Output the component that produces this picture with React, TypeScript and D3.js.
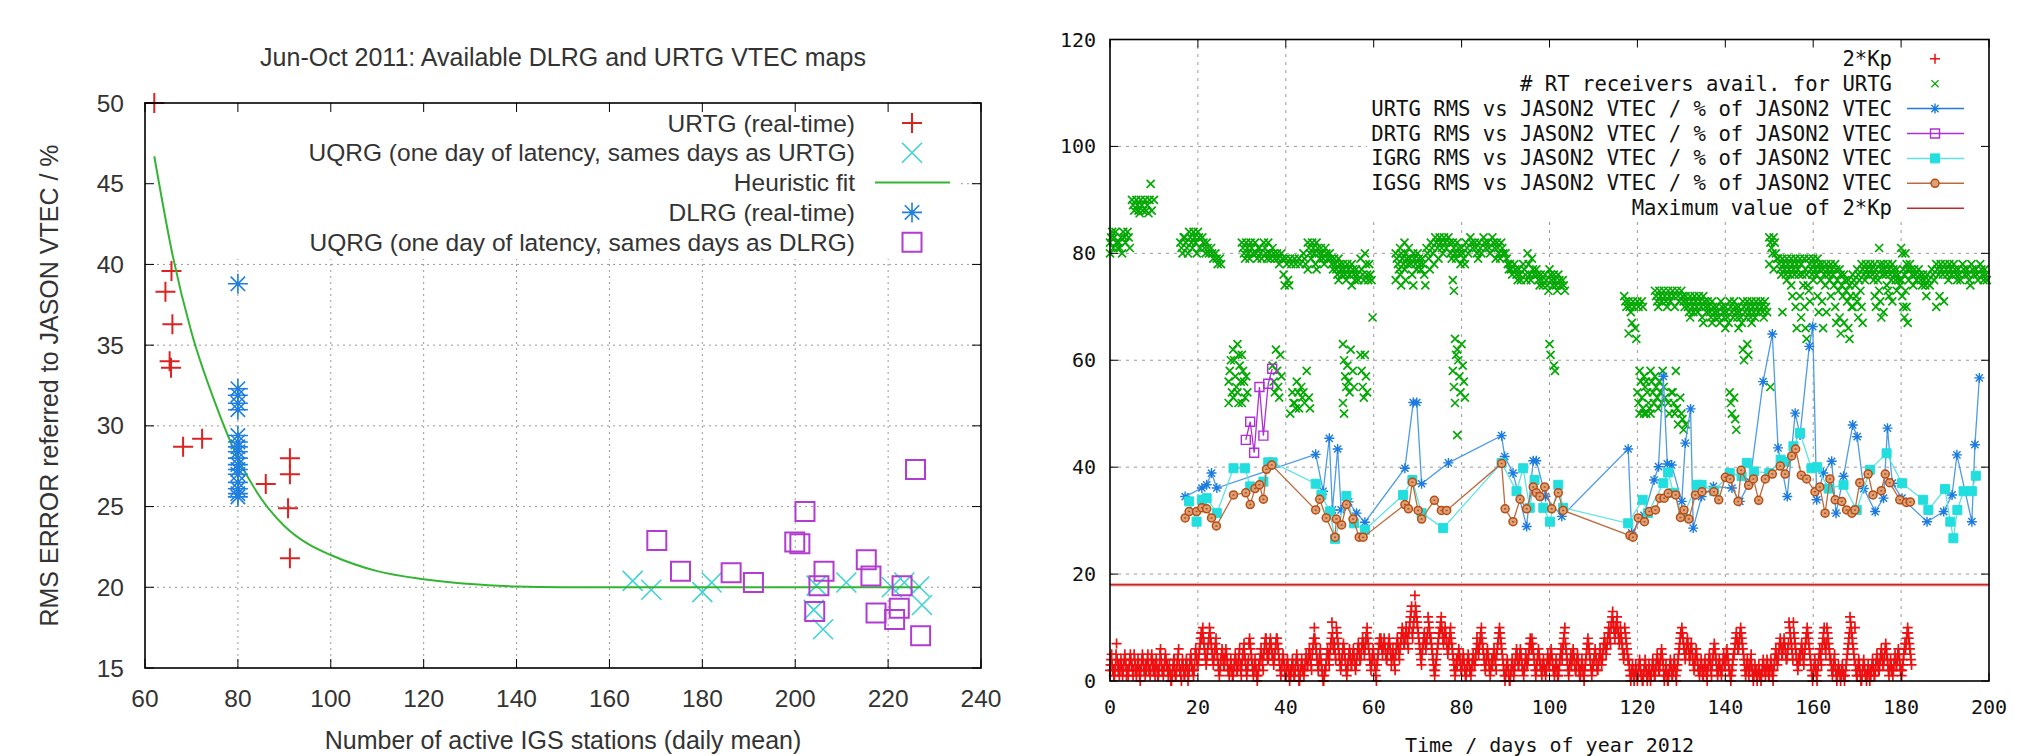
import React, { useEffect, useRef } from 'react';
import * as d3 from 'd3';

// ---------- left panel: RMS error vs number of IGS stations ----------
const leftXTicks = [60, 80, 100, 120, 140, 160, 180, 200, 220, 240];
const leftYTicks = [15, 20, 25, 30, 35, 40, 45, 50];

const urtgPts = [[62, 50], [65.7, 39.6], [64.4, 38.3], [65.9, 36.3], [65.3, 34.0], [65.6, 33.6],
  [68.2, 28.7], [72.3, 29.2], [86, 26.4], [91.2, 28.0], [91.2, 27.0], [90.8, 24.9], [91.2, 21.8]];
const uqrgUrtgPts = [[165, 20.4], [169, 19.85], [180, 19.7], [182, 20.3], [204, 18.6], [204.6, 20.1],
  [206, 17.4], [211, 20.3], [220.8, 20.0], [223.5, 20.3], [226.7, 20.05], [227.3, 18.9]];
const fitPts = [[62, 46.7], [66, 40.5], [70, 35.8], [75, 31.5], [80, 28.0], [85, 25.5], [90, 23.8],
  [95, 22.7], [100, 22.0], [110, 21.0], [120, 20.5], [130, 20.2], [140, 20.05], [150, 20.0], [227, 20.0]];
const dlrgVals = [38.8, 32.3, 31.9, 31.4, 31.0, 29.4, 29.0, 28.7, 28.4, 28.0, 27.6, 27.3, 27.0,
  26.5, 26.1, 25.8, 25.6];
const uqrgDlrgPts = [[170.2, 22.9], [175.3, 21.0], [186.2, 20.9], [191, 20.3], [199.9, 22.8],
  [201, 22.7], [202.1, 24.7], [206.2, 21.0], [205.1, 20.1], [204.2, 18.5], [215.3, 21.7],
  [216.3, 20.7], [217.4, 18.4], [223, 20.1], [222.4, 18.7], [221.4, 18.0], [227, 17.0], [225.9, 27.3]];

// ---------- right panel: time series 2012 ----------
const rightXTicks = [0, 20, 40, 60, 80, 100, 120, 140, 160, 180, 200];
const rightYTicks = [0, 20, 40, 60, 80, 100, 120];
const kpMax = 18;

// 2*Kp, one string per day, eight 3-hour values (base 36 digits)
const kp2 = [
  '23453221', '12357432', '31234321', '23454312', '21234543', '32125432', '12343210', '23454322',
  '13234532', '21245432', '32134321', '12356432', '21234543', '32123210', '01234421', '12345632',
  '21034321', '12343201', '23454322', '12356543', '34567898', '9a876543', '45678a98', '76543456',
  '78654321', '23456543', '34565432', '21234321', '12345432', '23456321', '34567543', '21234787',
  '65432123', '43210123', '34565432', '56788654', '45678765', '54345678', '87654321', '23454321',
  '12343210', '21234321', '12345432', '00123432', '21234543', '34565432', '5678a876', '54323456',
  '43210012', '23456543', '5678b976', '7654a987', '65432345', '67654321', '23456543', '34565432',
  '34567654', '45678765', '6789a876', '54323456', '54321034', '56787876', '56787654', '45678765',
  '34565432', '56787654', '6789a987', '789a9876', '9abcde98', 'abcgedcb', 'a9876543', '56789876',
  '789cba98', '87654321', '23456789', '9abca987', '89a98765', '6789a876', '54321234', '34565432',
  '23454321', '12345432', '21234543', '34568765', '6789a876', '54323456', '54321234', '34565432',
  '56789a98', '76543210', '12343210', '01234321', '23456543', '34565432', '21234543', '34567876',
  '87654321', '23456543', '32123432', '21234543', '34565432', '21234321', '12345654', '6789a765',
  '43212345', '34565432', '23454321', '12343210', '23456787', '65432123', '34565432', '23456543',
  '45678765', '6789a987', 'abcdba98', '9abca987', '8a987654', '5a987654', '43210123', '21012321',
  '01234321', '10012343', '21012321', '01234321', '12345432', '23456543', '10123210', '01234321',
  '12343210', '23456789', '9a987654', '56787654', '56765432', '34565432', '21234321', '12343210',
  '23454321', '34567654', '32123432', '21234543', '34565432', '21012345', '56789876', '6789a987',
  '65432123', '43212345', '32101232', '21012321', '10123432', '21234321', '12343210', '23456543',
  '45678765', '56787654', '4567ba98', '7654b987', '65432345', '45676543', '56789a98', '76543210',
  '12343210', '23456543', '6789a765', '7a987654', '43212345', '32101232', '21012321', '10123456',
  '789cba98', '7654a321', '12343210', '01234321', '10123210', '21234321', '12345432', '23456543',
  '34567654', '32123432', '21234543', '34565432', '21234567', '6789a987', '6543'];

// number of real-time receivers available, "day: values"
const rxAvail = [
  '0:82 83 84 81 80', '1:83 84 82 81', '2:82 81 83 80', '3:84 83 82', '4:84 83 81',
  '5:90 89 88', '6:90 89 88 87.5', '7:90 89 88', '8:90 88 89 87.5', '9:90 93 88', '10:90',
  '16:82 81 80 83', '17:83 82 81 80', '18:84 83 82 81', '19:84 83 82 80', '20:84 83 81',
  '21:83 82 81 80', '22:82 81 80', '23:81 80 79', '24:80 79 78', '25:79 78',
  '27:56 58 60 54 52', '28:62 60 57 55 53', '29:63 61 59 56 54 52', '30:82 81 80 79 61 58 56 53 52',
  '31:82 81 80 79 57 54', '32:82 81 80', '33:82 80 79 81', '34:81 80 79', '35:82 81 80 79',
  '36:82 80 79', '37:81 80 79 62 59 56 54', '38:80 79 78 61 58 55 53', '39:80 79 76 74 57',
  '40:79 78 75 74', '41:79 78 54 52 50', '42:79 78 56 54 52 51', '43:79 78 55 53 51',
  '44:80 79 78 58 54 52', '45:82 81 80 79 77 53 51', '46:82 81 80 78', '47:82 81 80 79 77',
  '48:81 80 79 78', '49:81 80 79', '50:80 79 78 77', '51:79 78 77 76', '52:79 78 77 76 75',
  '53:78 77 76 75 63 60 57 55 52 50', '54:78 77 76 62 59 56 54', '55:78 77 76 75 74 58 55',
  '56:77 76 75', '57:79 77 76 75 61 58 55 53', '58:80 78 76 75 61 57 54', '59:78 76 75 68',
  '65:80 79 78 77 75', '66:81 80 79 78 76 74', '67:82 80 79 78 77 75', '68:81 79 78 76',
  '69:80 79 78 77 74', '70:80 79 78 77', '71:79 78 76 74', '72:81 80 79 77', '73:82 81 80 78',
  '74:83 82 81 79', '75:83 82 81 80', '76:83 82 81', '77:83 82 80 79',
  '78:82 81 80 79 75 73 64 61 58 55 52', '79:82 81 80 78 62 60 57 54 46', '80:81 80 79 78 63 59 56 53',
  '81:82 81 80', '82:83 82 81', '83:82 81 80 79', '84:82 81 80', '85:83 82 81', '86:82 81 80',
  '87:83 82 81 79', '88:82 81 80 79', '89:82 81 80', '90:80 79 78 77', '91:78 77 76',
  '92:78 77 76 75', '93:77 76 75', '94:78 77 76 75', '95:80 78 76 75', '96:79 77 76',
  '97:77 76 75 74', '98:76 75 74', '99:76 75 74 73', '100:77 76 75 74 63 61', '101:76 75 74 73 59 58',
  '102:76 75 74', '103:75 74 73',
  '117:72 71 70', '118:71 70 69 67 65', '119:71 70 66 64', '120:71 70 58 56 54 52 50',
  '121:71 70 57 55 53 51 50', '122:56 54 52 51 50', '123:58 56 54 52 50', '124:73 72 71 70 57 55 53 51',
  '125:73 72 71 58 56 54 52', '126:73 72 71 70 55 53', '127:73 72 71 54 52 50', '128:73 72 70 58 54 52 50',
  '129:73 72 71 53 51 48', '130:73 72 71 70 50 49 47', '131:72 71 70 69 48', '132:72 71 70 69 68',
  '133:72 71 70 69', '134:72 71 70 68', '135:72 71 70 69 67', '136:71 70 69 68', '137:71 70 69 68 67',
  '138:70 69 68 67', '139:71 70 69 68', '140:70 69 68 67 66', '141:71 70 69 68 54 52 50',
  '142:71 70 69 68 53 49 47', '143:70 69 68 67 66', '144:71 70 69 68 62 60', '145:71 70 69 68 63 61',
  '146:71 70 69 68 67', '147:71 70 69', '148:71 70 69 68', '149:71 70 69', '150:83 82 81 80 78 55',
  '151:83 82 80 79 77', '152:79 78 77 76', '153:79 78 77 76 69', '154:79 78 77 76 75',
  '155:79 78 77 76 74 72', '156:79 78 77 76 70 66', '157:79 78 76 74 72 68', '158:79 77 76 74 70 66 64',
  '159:79 78 77 76 73 71', '160:79 78 77 76 75', '161:79 78 77 75 72 69', '162:78 77 76 74 71 66',
  '163:78 77 76 75 69', '164:78 77 76 74 72', '165:78 77 75 73 70 67', '166:77 76 74 72 68 65',
  '167:76 75 73 71 67', '168:75 74 72 70 66 64', '169:76 75 74 72 70', '170:77 76 75 73 71 68',
  '171:78 77 76 75 70 67', '172:78 77 76', '173:78 77 76 75', '174:78 77 76 75 72 70',
  '175:81 78 77 76 73 71 68', '176:78 77 76 74 69', '177:78 77 76 75 73 72', '178:78 77 76 75 71',
  '179:77 76 75 74 73', '180:81 80 77 76 75 72 70 68', '181:80 78 77 75 73 70 67', '182:78 77 76 74',
  '183:77 76 75', '184:77 76 75 74', '185:76 75 74 72', '186:76 75 74', '187:77 76 75',
  '188:78 77 76 72 70', '189:78 77 76 71', '190:78 77 76 75', '191:78 77 76', '192:78 77 76 75',
  '193:77 76 75', '194:78 77 76', '195:77 76 75 74', '196:78 77 76', '197:77 76 75', '198:78 77 76 75',
  '199:77 76 75'];

const urtgRms = [[17.1, 34.5], [20.9, 36.1], [22.0, 36.7], [23.1, 38.9], [24.3, 36.1], [46.8, 42.4],
  [48.5, 35.5], [49.9, 45.4], [50.6, 32.0], [51.8, 43.4], [52.6, 32.0], [54.3, 33.5], [56.1, 31.4],
  [58.0, 29.7], [67.1, 39.8], [69.0, 52.1], [69.8, 52.1], [70.9, 36.9], [77.0, 40.8], [89.1, 45.9],
  [89.8, 42.0], [91.7, 38.9], [94.8, 28.9], [96.3, 41.2], [97.0, 41.2], [99.1, 34.5], [102.8, 30.8],
  [117.9, 43.4], [118.7, 27.7], [121.5, 31.0], [123.8, 37.6], [124.8, 40.1], [125.9, 57.0],
  [126.8, 40.6], [127.8, 40.4], [130.1, 33.6], [130.9, 44.5], [132.1, 50.9], [132.7, 28.6],
  [134.6, 34.5], [137.3, 36.4], [141.5, 36.1], [143.3, 33.6], [145.6, 37.3], [148.6, 56.0],
  [150.7, 64.9], [152.0, 43.6], [154.1, 34.5], [155.9, 50.1], [157.0, 46.0], [159.1, 62.6],
  [159.9, 66.3], [160.8, 33.9], [162.3, 38.9], [164.2, 41.1], [165.2, 31.4], [166.9, 38.3],
  [169.0, 47.9], [170.0, 45.7], [171.5, 36.0], [174.1, 31.7], [176.0, 34.2], [176.9, 47.3],
  [178.0, 37.0], [180.2, 34.2], [185.9, 29.8], [189.7, 31.7], [191.6, 34.8], [192.7, 42.3],
  [196.1, 29.8], [196.8, 44.2], [197.8, 56.7]];
const drtgRms = [[30.9, 45.1], [31.9, 48.5], [32.8, 42.7], [34.0, 55.0], [34.9, 45.9], [36.0, 55.6], [36.9, 58.4]];
const igrgRms = [[18.0, 33.6], [19.7, 29.8], [20.9, 33.9], [22.0, 34.2], [24.3, 31.4], [28.1, 39.8],
  [30.7, 39.8], [31.9, 36.4], [34.9, 37.3], [36.0, 40.9], [37.0, 40.9], [46.8, 36.9], [48.1, 34.8],
  [50.0, 31.7], [51.2, 26.6], [53.8, 34.6], [55.5, 29.5], [58.0, 28.3], [66.7, 34.8], [68.8, 37.6],
  [70.9, 31.4], [75.8, 28.6], [89.1, 40.8], [92.5, 35.5], [94.0, 39.8], [95.5, 32.4], [96.6, 37.6],
  [98.6, 32.4], [100.1, 29.8], [102.0, 36.7], [103.1, 32.4], [117.9, 29.5], [121.2, 33.9],
  [122.4, 31.4], [125.9, 37.0], [127.0, 39.0], [128.2, 35.2], [130.4, 30.8], [133.5, 36.7],
  [134.6, 36.7], [137.5, 35.5], [141.0, 38.9], [143.7, 38.3], [144.9, 40.8], [146.5, 39.2],
  [150.0, 38.9], [152.6, 41.4], [153.7, 41.0], [155.5, 43.9], [157.0, 46.4], [159.6, 39.8],
  [160.9, 40.0], [163.5, 36.0], [166.9, 36.7], [169.9, 32.0], [172.9, 39.5], [176.7, 42.6],
  [180.2, 37.0], [185.0, 33.9], [186.2, 32.0], [190.0, 35.9], [191.2, 29.8], [191.9, 26.7],
  [192.8, 32.0], [194.2, 35.5], [196.1, 35.5], [197.0, 38.4]];
const igsgRms = [[17.1, 30.5], [18.0, 31.7], [19.7, 31.7], [20.9, 32.4], [22.0, 32.2], [23.1, 30.5],
  [24.2, 29.0], [28.1, 34.8], [30.9, 35.2], [31.9, 33.0], [33.0, 36.0], [34.0, 36.7], [34.9, 34.0],
  [35.6, 39.6], [36.8, 40.4], [46.8, 32.0], [47.7, 34.0], [49.2, 30.5], [51.2, 26.9], [51.5, 30.3],
  [52.7, 29.2], [53.8, 33.0], [55.3, 30.3], [56.7, 26.9], [57.6, 26.9], [67.1, 33.0], [67.9, 32.2],
  [68.8, 37.2], [70.1, 31.9], [70.9, 30.3], [73.8, 33.8], [75.4, 31.9], [76.6, 31.9], [89.1, 40.7],
  [89.9, 32.2], [91.7, 29.8], [93.3, 34.0], [94.8, 32.2], [96.3, 36.3], [97.0, 35.2], [97.8, 34.5],
  [98.9, 36.3], [100.5, 32.2], [102.0, 35.2], [103.1, 31.9], [118.3, 27.2], [119.0, 26.9],
  [120.2, 30.5], [121.6, 29.8], [122.7, 31.7], [124.1, 32.0], [125.1, 34.2], [126.1, 34.2],
  [127.0, 35.1], [128.7, 34.8], [129.8, 30.6], [130.6, 32.0], [131.7, 30.3], [133.2, 34.8],
  [134.7, 35.4], [137.4, 35.4], [138.5, 33.9], [140.0, 38.1], [141.1, 37.8], [142.9, 33.6],
  [143.6, 39.4], [145.3, 36.6], [146.4, 37.8], [147.6, 33.8], [149.1, 37.8], [150.7, 38.7],
  [152.5, 40.2], [153.6, 38.7], [155.1, 42.1], [156.0, 43.4], [157.3, 38.5], [158.5, 37.8],
  [160.4, 35.4], [161.5, 36.3], [162.7, 31.4], [163.8, 37.8], [165.0, 33.9], [166.5, 33.6],
  [167.6, 32.0], [168.8, 31.4], [169.5, 32.0], [170.6, 37.1], [172.5, 38.7], [173.6, 34.8],
  [175.5, 35.6], [176.4, 38.7], [177.4, 37.1], [179.7, 33.9], [181.2, 33.4], [182.1, 33.5]];

// ---------- marker shapes ----------
const plus = (s: number) => `M${-s},0H${s}M0,${-s}V${s}`;
const cross = (s: number) => `M${-s},${-s}L${s},${s}M${-s},${s}L${s},${-s}`;
const star = (s: number) => plus(s) + cross(s * 0.72);
const square = (s: number) => `M${-s},${-s}H${s}V${s}H${-s}Z`;
const ring = 'M-4,0a4,4 0 1,0 8,0a4,4 0 1,0 -8,0';

function marks(g, pts, x, y, d, stroke, sw, fill = 'none') {
  g.append('g').selectAll('path').data(pts).join('path')
    .attr('transform', (p) => `translate(${x(p[0])},${y(p[1])})`)
    .attr('d', d).attr('stroke', stroke).attr('stroke-width', sw).attr('fill', fill);
}

function frame(g, x, y, xt, yt, len) {
  const [x0, x1] = x.range();
  const [y0, y1] = y.range();
  xt.forEach((t) => {
    g.append('line').attr('x1', x(t)).attr('x2', x(t)).attr('y1', y0).attr('y2', y0 - len).attr('stroke', '#000');
    g.append('line').attr('x1', x(t)).attr('x2', x(t)).attr('y1', y1).attr('y2', y1 + len).attr('stroke', '#000');
  });
  yt.forEach((t) => {
    g.append('line').attr('x1', x0).attr('x2', x0 + len).attr('y1', y(t)).attr('y2', y(t)).attr('stroke', '#000');
    g.append('line').attr('x1', x1).attr('x2', x1 - len).attr('y1', y(t)).attr('y2', y(t)).attr('stroke', '#000');
  });
  g.append('rect').attr('x', x0).attr('y', y1).attr('width', x1 - x0).attr('height', y0 - y1)
    .attr('fill', 'none').attr('stroke', '#000').attr('stroke-width', 1.6);
}

function grid(g, x, y, xt, yt, dash, color) {
  const [x0, x1] = x.range();
  const [y0, y1] = y.range();
  xt.slice(1, -1).forEach((t) => g.append('line').attr('x1', x(t)).attr('x2', x(t)).attr('y1', y0).attr('y2', y1)
    .attr('stroke', color).attr('stroke-dasharray', dash));
  yt.slice(1, -1).forEach((t) => g.append('line').attr('x1', x0).attr('x2', x1).attr('y1', y(t)).attr('y2', y(t))
    .attr('stroke', color).attr('stroke-dasharray', dash));
}

function drawLeft(g) {
  const x = d3.scaleLinear().domain([60, 240]).range([145, 981]);
  const y = d3.scaleLinear().domain([15, 50]).range([668, 103]);
  const font = 'Liberation Sans, Arial, sans-serif';
  const txt = '#333';

  grid(g, x, y, leftXTicks, leftYTicks, '2,4', '#999');
  // opaque key box
  g.append('rect').attr('x', x(60) + 1).attr('y', y(50) + 1).attr('width', x(235) - x(60))
    .attr('height', y(40.4) - y(50)).attr('fill', '#fff');

  const c = { red: '#dd2222', cyan: '#3fd3d3', green: '#33b533', blue: '#1f7fe0', purple: '#b23cd2' };
  marks(g, urtgPts, x, y, plus(10), c.red, 2);
  marks(g, uqrgUrtgPts, x, y, cross(10), c.cyan, 1.6);
  g.append('path').datum(fitPts).attr('fill', 'none').attr('stroke', c.green).attr('stroke-width', 2)
    .attr('d', d3.line().x((p) => x(p[0])).y((p) => y(p[1])).curve(d3.curveMonotoneX));
  const dl = dlrgVals.map((v) => [80, v]);
  marks(g, dl, x, y, star(10), c.blue, 1.6);
  marks(g, dl, x, y, 'M0,0m-2,0a2,2 0 1,0 4,0a2,2 0 1,0 -4,0', c.blue, 0, c.blue);
  marks(g, uqrgDlrgPts, x, y, square(9.5), c.purple, 2);

  frame(g, x, y, leftXTicks, leftYTicks, 9);

  leftXTicks.forEach((t) => g.append('text').attr('x', x(t)).attr('y', 707).attr('text-anchor', 'middle')
    .attr('font-family', font).attr('font-size', 24.5).attr('fill', txt).text(t));
  leftYTicks.forEach((t) => g.append('text').attr('x', 124).attr('y', y(t) + 8.5).attr('text-anchor', 'end')
    .attr('font-family', font).attr('font-size', 24.5).attr('fill', txt).text(t));
  g.append('text').attr('x', 563).attr('y', 66).attr('text-anchor', 'middle').attr('font-family', font)
    .attr('font-size', 25).attr('fill', txt).text('Jun-Oct 2011: Available DLRG and URTG VTEC maps');
  g.append('text').attr('x', 563).attr('y', 749).attr('text-anchor', 'middle').attr('font-family', font)
    .attr('font-size', 25).attr('fill', txt).text('Number of active IGS stations (daily mean)');
  g.append('text').attr('transform', `translate(58,${(y(15) + y(50)) / 2}) rotate(-90)`).attr('text-anchor', 'middle')
    .attr('font-family', font).attr('font-size', 25).attr('fill', txt).text('RMS ERROR referred to JASON VTEC / %');

  // key
  const rows = [
    { label: 'URTG (real-time)', kind: 'p', d: plus(10), col: c.red, sw: 2 },
    { label: 'UQRG (one day of latency, sames days as URTG)', kind: 'p', d: cross(10), col: c.cyan, sw: 1.6 },
    { label: 'Heuristic fit', kind: 'l', col: c.green },
    { label: 'DLRG (real-time)', kind: 'p', d: star(10), col: c.blue, sw: 1.6 },
    { label: 'UQRG (one day of latency, sames days as DLRG)', kind: 'p', d: square(9.5), col: c.purple, sw: 2 },
  ];
  rows.forEach((r, i) => {
    const cy = 123 + i * 29.8;
    g.append('text').attr('x', 855).attr('y', cy + 8.5).attr('text-anchor', 'end').attr('font-family', font)
      .attr('font-size', 24.5).attr('fill', txt).text(r.label);
    if (r.kind === 'l') {
      g.append('line').attr('x1', 875).attr('x2', 950).attr('y1', cy).attr('y2', cy)
        .attr('stroke', r.col).attr('stroke-width', 2);
    } else {
      g.append('path').attr('transform', `translate(912,${cy})`).attr('d', r.d).attr('stroke', r.col)
        .attr('stroke-width', r.sw).attr('fill', 'none');
    }
  });
}

function drawRight(g) {
  const x = d3.scaleLinear().domain([0, 200]).range([1110, 1989]);
  const y = d3.scaleLinear().domain([0, 120]).range([681, 39.5]);
  const font = 'DejaVu Sans Mono, Liberation Mono, monospace';
  const fs = 20;

  grid(g, x, y, rightXTicks, rightYTicks, '3,5', '#999');
  g.append('rect').attr('x', x(58.5)).attr('y', y(120) + 1).attr('width', x(198.5) - x(58.5))
    .attr('height', y(86.5) - y(120)).attr('fill', '#fff');

  const c = { kp: '#ee1111', rx: '#04a804', urtg: '#1b7be0', urtgL: '#4e9be6', drtg: '#b02ed8',
    igrg: '#22dede', igrgL: '#5ee3e3', igsg: '#b84c12', igsgL: '#bd6a3a', max: '#c62828' };

  const kpPts = [];
  kp2.forEach((s, day) => s.split('').forEach((ch, i) => kpPts.push([day + i / 8, parseInt(ch, 36)])));
  marks(g, kpPts, x, y, plus(5), c.kp, 1.7);

  const rxPts = [];
  rxAvail.forEach((s) => {
    const [d, vs] = s.split(':');
    const vals = vs.split(' ').map(Number);
    vals.forEach((v, i) => rxPts.push([+d + (i % 4) / 4, v]));
  });
  marks(g, rxPts, x, y, cross(4), c.rx, 1.7);

  const line = d3.line().x((p) => x(p[0])).y((p) => y(p[1]));
  const series = [
    { pts: urtgRms, lc: c.urtgL, mc: c.urtg, d: star(5), fill: 'none', sw: 1.4 },
    { pts: drtgRms, lc: c.drtg, mc: c.drtg, d: square(4.5), fill: 'none', sw: 1.4 },
    { pts: igrgRms, lc: c.igrgL, mc: c.igrg, d: square(4.5), fill: c.igrg, sw: 1 },
    { pts: igsgRms, lc: c.igsgL, mc: c.igsg, d: ring + 'M-1,0h2', fill: '#dba27a', sw: 1.5 },
  ];
  series.forEach((s) => {
    g.append('path').datum(s.pts).attr('fill', 'none').attr('stroke', s.lc).attr('stroke-width', 1.3).attr('d', line);
    marks(g, s.pts, x, y, s.d, s.mc, s.sw, s.fill);
  });

  g.append('line').attr('x1', x(0)).attr('x2', x(200)).attr('y1', y(kpMax)).attr('y2', y(kpMax))
    .attr('stroke', '#f0b0b0').attr('stroke-width', 3.5);
  g.append('line').attr('x1', x(0)).attr('x2', x(200)).attr('y1', y(kpMax)).attr('y2', y(kpMax))
    .attr('stroke', c.max).attr('stroke-width', 1.4);

  frame(g, x, y, rightXTicks, rightYTicks, 8);

  rightXTicks.forEach((t) => g.append('text').attr('x', x(t)).attr('y', 714).attr('text-anchor', 'middle')
    .attr('font-family', font).attr('font-size', fs).attr('fill', '#111').text(t));
  rightYTicks.forEach((t) => g.append('text').attr('x', 1096).attr('y', y(t) + 7).attr('text-anchor', 'end')
    .attr('font-family', font).attr('font-size', fs).attr('fill', '#111').text(t));
  g.append('text').attr('x', (x(0) + x(200)) / 2).attr('y', 752).attr('text-anchor', 'middle')
    .attr('font-family', font).attr('font-size', fs).attr('fill', '#111').text('Time / days of year 2012');

  const rows = [
    { label: '2*Kp', d: plus(5), col: c.kp, lc: null, fill: 'none', sw: 1.5 },
    { label: '# RT receivers avail. for URTG', d: cross(3.6), col: c.rx, lc: null, fill: 'none', sw: 1.3 },
    { label: 'URTG RMS vs JASON2 VTEC / % of JASON2 VTEC', d: star(5), col: c.urtg, lc: c.urtg, fill: 'none', sw: 1.4 },
    { label: 'DRTG RMS vs JASON2 VTEC / % of JASON2 VTEC', d: square(4.5), col: c.drtg, lc: c.drtg, fill: 'none', sw: 1.4 },
    { label: 'IGRG RMS vs JASON2 VTEC / % of JASON2 VTEC', d: square(4.5), col: c.igrg, lc: c.igrgL, fill: c.igrg, sw: 1 },
    { label: 'IGSG RMS vs JASON2 VTEC / % of JASON2 VTEC', d: ring, col: c.igsg, lc: c.igsgL, fill: '#dba27a', sw: 1.5 },
    { label: 'Maximum value of 2*Kp', d: null, col: c.max, lc: c.max, fill: 'none', sw: 1.4 },
  ];
  rows.forEach((r, i) => {
    const cy = 58.8 + i * 24.9;
    g.append('text').attr('x', 1892).attr('y', cy + 7).attr('text-anchor', 'end').attr('font-family', font)
      .attr('font-size', 20.6).attr('fill', '#111').text(r.label);
    if (r.lc) {
      g.append('line').attr('x1', 1907).attr('x2', 1964).attr('y1', cy).attr('y2', cy)
        .attr('stroke', r.lc).attr('stroke-width', 1.5);
    }
    if (r.d) {
      g.append('path').attr('transform', `translate(1935,${cy})`).attr('d', r.d).attr('stroke', r.col)
        .attr('stroke-width', r.sw).attr('fill', r.fill);
    }
  });
}

export default function App() {
  const ref = useRef(null);
  useEffect(() => {
    document.body.style.margin = '0';
    const svg = d3.select(ref.current);
    svg.selectAll('*').remove();
    drawLeft(svg.append('g'));
    drawRight(svg.append('g'));
  }, []);
  return <svg ref={ref} width={2030} height={756} style={{ display: 'block', background: '#fff' }} />;
}
